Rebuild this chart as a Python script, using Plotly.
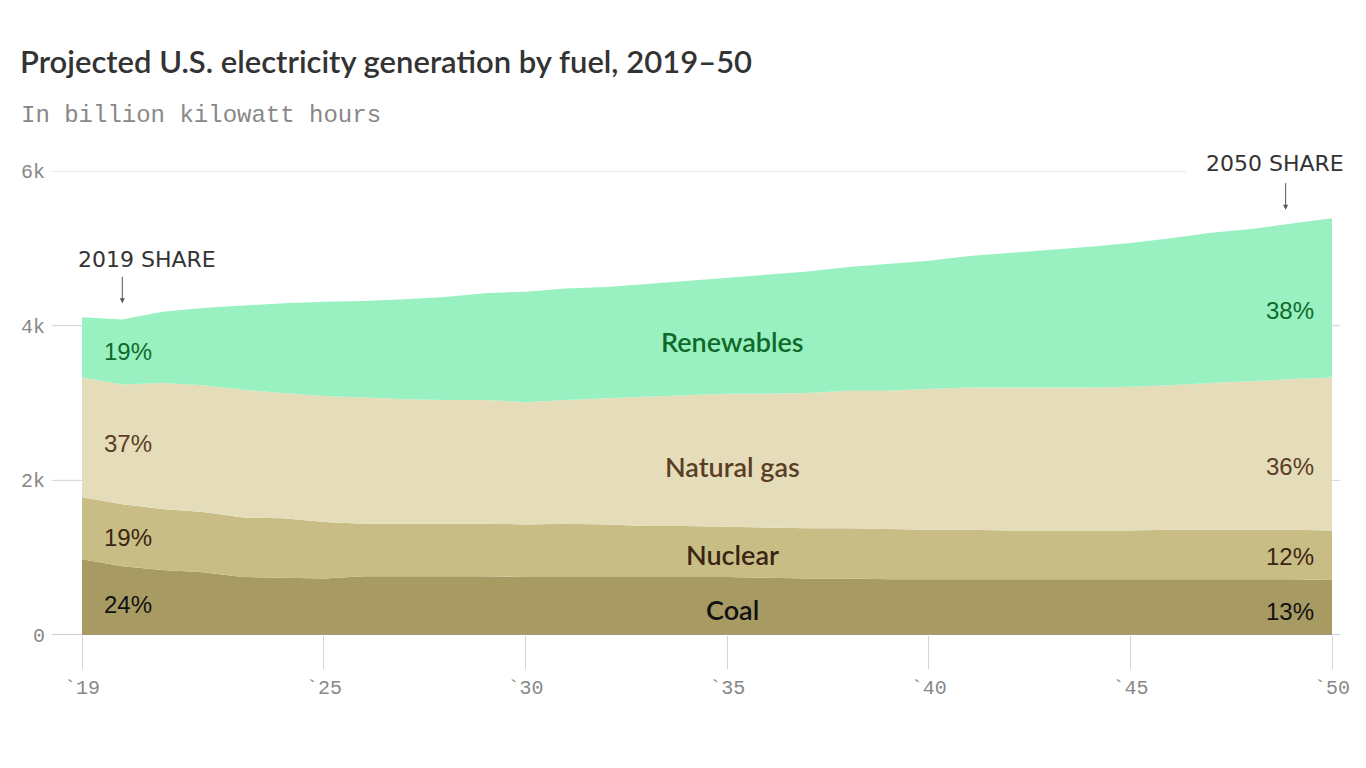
import plotly.graph_objects as go

years = list(range(2019, 2051))
coal = [0.98, 0.89, 0.84, 0.81, 0.75, 0.74, 0.73, 0.76, 0.76, 0.76, 0.76, 0.75, 0.75, 0.75, 0.75, 0.75,
        0.75, 0.74, 0.73, 0.73, 0.72, 0.72, 0.72, 0.72, 0.72, 0.72, 0.72, 0.72, 0.72, 0.72, 0.72, 0.71]
nuclear = [0.80, 0.80, 0.79, 0.78, 0.77, 0.77, 0.73, 0.68, 0.68, 0.68, 0.68, 0.68, 0.69, 0.68, 0.66, 0.66,
           0.65, 0.65, 0.65, 0.65, 0.65, 0.64, 0.64, 0.63, 0.63, 0.63, 0.63, 0.64, 0.64, 0.64, 0.64, 0.64]
gas = [1.55, 1.55, 1.63, 1.64, 1.65, 1.62, 1.63, 1.63, 1.61, 1.60, 1.60, 1.58, 1.60, 1.63, 1.67, 1.69,
       1.72, 1.73, 1.75, 1.78, 1.79, 1.82, 1.84, 1.85, 1.85, 1.85, 1.86, 1.87, 1.90, 1.92, 1.95, 1.98]
renewables = [0.78, 0.84, 0.92, 1.00, 1.09, 1.16, 1.22, 1.25, 1.29, 1.33, 1.38, 1.43, 1.44, 1.44, 1.46, 1.48,
              1.50, 1.54, 1.57, 1.60, 1.64, 1.66, 1.70, 1.74, 1.78, 1.82, 1.86, 1.90, 1.94, 1.97, 2.01, 2.06]

series_names = ["Coal", "Nuclear", "Natural gas", "Renewables"]
series_values = [coal, nuclear, gas, renewables]
fill_colors = ["#a89a63", "#c9bd86", "#e5ddba", "#99f1c1"]
text_colors = ["#111111", "#3a2512", "#5a3d25", "#0f6a2a"]
share_2019 = ["24%", "19%", "37%", "19%"]
share_2050 = ["13%", "12%", "36%", "38%"]

x_tickvals = [2019, 2025, 2030, 2035, 2040, 2045, 2050]
x_ticktext = ["`19", "`25", "`30", "`35", "`40", "`45", "`50"]
y_tickvals = [0, 2000, 4000, 6000]
y_ticktext = ["0", "2k", "4k", "6k"]

# label positions (in billion kWh) -- styling
name_y = [336, 1047, 2185, 3800]
left_y = [400, 1267, 2480, 3670]
right_y = [310, 1020, 2185, 4190]

# figure geometry (page body has an 8px margin)
W, H = 1358, 760
ML, MR, MT, MB = 74, 34, 163, 133
PW, PH = W - ML - MR, H - MT - MB


def px(x):  # page pixel x -> paper
    return (x - 8 - ML) / PW


def py(y):  # page pixel y -> paper
    return (H - MB - (y - 8)) / PH


fig = go.Figure()
for name, vals, col in zip(series_names, series_values, fill_colors):
    fig.add_trace(go.Scatter(
        x=years, y=[v * 1000 for v in vals], name=name, mode="lines",
        stackgroup="one", line=dict(width=0, color=col), fillcolor=col,
        hoverinfo="x+y+name"))

shapes = []
for v in y_tickvals:
    shapes.append(dict(type="line", xref="paper", yref="y",
                       x0=px(52), x1=(px(1186) if v == 6000 else px(1340)), y0=v, y1=v,
                       line=dict(color="#9a9a9a" if v == 0 else "#d3d3d3", width=1),
                       layer="above" if v == 0 else "below"))

annotations = []
sans = "Lato"
for i, name in enumerate(series_names):
    annotations.append(dict(x=px(732), y=name_y[i], xref="paper", yref="y", text=name, showarrow=False,
                            font=dict(family=sans, size=27, color=text_colors[i], weight=600),
                            xanchor="center", yanchor="middle"))
    annotations.append(dict(x=px(102), y=left_y[i], xref="paper", yref="y", text=share_2019[i], showarrow=False,
                            font=dict(family="Liberation Sans", size=24, color=text_colors[i]),
                            xanchor="left", yanchor="middle"))
    annotations.append(dict(x=px(1316), y=right_y[i], xref="paper", yref="y", text=share_2050[i], showarrow=False,
                            font=dict(family="Liberation Sans", size=24, color=text_colors[i]),
                            xanchor="right", yanchor="middle"))

# share labels and arrows
annotations.append(dict(x=px(147), y=py(259), xref="paper", yref="paper", text="2019 SHARE", showarrow=False,
                        font=dict(family="DejaVu Sans", size=22, color="#333333"),
                        xanchor="center", yanchor="middle"))
annotations.append(dict(x=2020, y=4290, xref="x", yref="y", text="", showarrow=True, ax=0, ay=-28,
                        arrowhead=2, arrowsize=1, arrowwidth=1, arrowcolor="#555555"))
annotations.append(dict(x=px(1346), y=py(164), xref="paper", yref="paper", text="2050 SHARE", showarrow=False,
                        font=dict(family="DejaVu Sans", size=22, color="#333333"),
                        xanchor="right", yanchor="middle"))
annotations.append(dict(x=2048.85, y=5500, xref="x", yref="y", text="", showarrow=True, ax=0, ay=-28,
                        arrowhead=2, arrowsize=1, arrowwidth=1, arrowcolor="#555555"))

# subtitle
annotations.append(dict(x=px(19), y=py(115), xref="paper", yref="paper", text="In billion kilowatt hours",
                        showarrow=False, font=dict(family="Liberation Mono", size=24, color="#888888"),
                        xanchor="left", yanchor="middle"))

fig.update_layout(
    width=W, height=H,
    margin=dict(l=ML, r=MR, t=MT, b=MB),
    paper_bgcolor="white", plot_bgcolor="rgba(0,0,0,0)",
    showlegend=False,
    title=dict(text="Projected U.S. electricity generation by fuel, 2019–50",
               x=12 / W, y=1 - 54 / H, xref="container", yref="container",
               xanchor="left", yanchor="middle",
               font=dict(family=sans, size=31, color="#333333", weight=600)),
    xaxis=dict(range=[2019, 2050], showgrid=False, zeroline=False, showline=False,
               tickmode="array", tickvals=x_tickvals, ticktext=x_ticktext,
               ticks="outside", ticklen=33, tickcolor="#d3d3d3", tickwidth=1,
               tickfont=dict(family="Liberation Mono", size=20, color="#888888"),
               ticklabelstandoff=1, fixedrange=True),
    yaxis=dict(range=[0, 6000], showgrid=False, zeroline=False, showline=False,
               tickmode="array", tickvals=y_tickvals, ticktext=y_ticktext,
               tickfont=dict(family="Liberation Mono", size=20, color="#888888"),
               ticks="", ticklabelstandoff=36, fixedrange=True),
    shapes=shapes, annotations=annotations,
)

fig.write_html("out.html")
